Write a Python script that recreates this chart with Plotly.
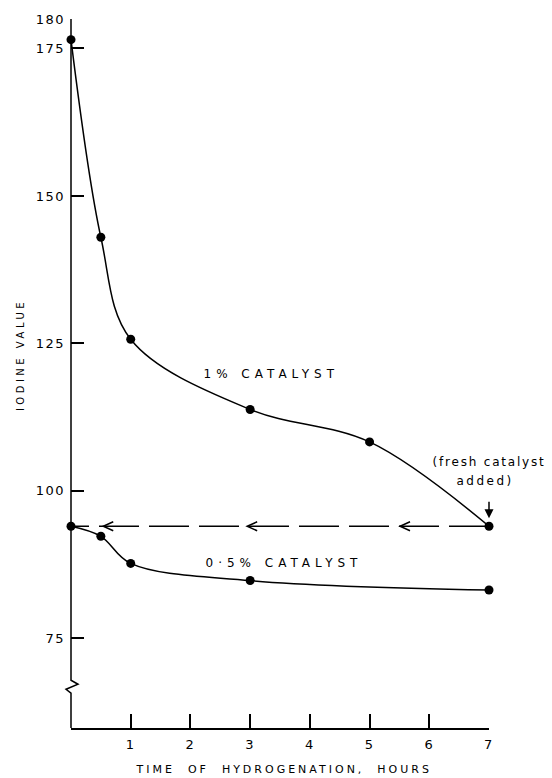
import json
import plotly.graph_objects as go

# ---- data ----
time_1pct = [0, 0.5, 1, 3, 5, 7]
iv_1pct = [176.5, 143.0, 125.7, 113.8, 108.3, 94.0]

time_05pct = [0, 0.5, 1, 3, 7]
iv_05pct = [94.0, 92.3, 87.7, 84.8, 83.2]

# fresh catalyst added at 7 h: iodine value carried back to t = 0
transfer_time = [7, 0]
transfer_iv = [94.0, 94.0]

x_ticks = [1, 2, 3, 4, 5, 6, 7]
y_ticks = [75, 100, 125, 150, 175, 180]

FONT = "DejaVu Sans"
W, H = 552, 778
ML, MR, MT, MB = 71, 63, 15, 50
YMIN, YMAX = 59.8, 180
XMIN, XMAX = 0, 7
pw = W - ML - MR
ph = H - MT - MB
pxx = (XMAX - XMIN) / pw       # data units per pixel in x
pxy = (YMAX - YMIN) / ph       # data units per pixel in y


def yv(py):
    return YMAX - (py - MT) * pxy


def xp(px):
    return (px - ML) / pw


def yp(py):
    return (H - MB - py) / ph


fig = go.Figure()

fig.add_trace(go.Scatter(
    x=time_1pct, y=iv_1pct, mode="lines+markers",
    line=dict(color="black", width=1.5, shape="spline", smoothing=1.0),
    marker=dict(color="black", size=9), cliponaxis=False, showlegend=False))

fig.add_trace(go.Scatter(
    x=time_05pct, y=iv_05pct, mode="lines+markers",
    line=dict(color="black", width=1.5, shape="spline", smoothing=1.0),
    marker=dict(color="black", size=9), cliponaxis=False, showlegend=False))

fig.add_trace(go.Scatter(
    x=transfer_time, y=transfer_iv, mode="lines",
    line=dict(color="black", width=1.5, dash="40px,10px"),
    cliponaxis=False, showlegend=False))

shapes = []
# open chevron arrowheads on the dashed line
for ax_ in [0.54, 2.95, 5.51]:
    dx = 10 * pxx
    dy = 4.5 * pxy
    shapes.append(dict(type="path", xref="x", yref="y",
                       path=f"M {ax_+dx},{transfer_iv[0]+dy} L {ax_},{transfer_iv[0]} L {ax_+dx},{transfer_iv[0]-dy}",
                       line=dict(color="black", width=1.5)))

# y axis line with break (zigzag)
px_ = 1.0 / pw
zig = (f"M 0,{YMIN} L 0,{yv(693)} L {-5*px_},{yv(689)} L {7*px_},{yv(684)} "
       f"L 0,{yv(680)} L 0,{YMAX}")
shapes.append(dict(type="path", xref="paper", yref="y", path=zig,
                   line=dict(color="black", width=1.5), layer="above"))

tf = dict(family=FONT, size=12, color="black")
A = dict(xanchor="center", yanchor="middle", showarrow=False)
annotations = [
    dict(x=3.36, y=yv(372), xref="x", yref="y", text="1% CATALYST", font=tf, **A),
    dict(x=3.57, y=yv(562), xref="x", yref="y", text="0·5% CATALYST", font=tf, **A),
    dict(x=xp(489), y=yp(461), xref="paper", yref="paper", text="(fresh catalyst",
         font=tf, **A),
    dict(x=xp(485), y=yp(480), xref="paper", yref="paper", text="added)", font=tf, **A),
    dict(x=7, y=transfer_iv[0], xref="x", yref="y", text="", showarrow=True,
         ax=0, ay=-26, arrowhead=2, arrowsize=1.2, arrowwidth=1.5, arrowcolor="black",
         standoff=8),
    dict(x=xp(20), y=yp(353), xref="paper", yref="paper",
         text="IODINE VALUE", textangle=-90,
         font=dict(family=FONT, size=10, color="black"), **A),
    dict(x=xp(283), y=yp(770), xref="paper", yref="paper",
         text="TIME  OF  HYDROGENATION,  HOURS",
         font=dict(family=FONT, size=11, color="black"), **A),
]
spacing = {
    "1% CATALYST": "5px",
    "0·5% CATALYST": "5px",
    "(fresh catalyst": "1.8px",
    "added)": "2.5px",
    "IODINE VALUE": "3.5px",
    "TIME  OF  HYDROGENATION,  HOURS": "3px",
}

fig.update_layout(
    width=W, height=H,
    margin=dict(l=ML, r=MR, t=MT, b=MB, pad=0),
    paper_bgcolor="white", plot_bgcolor="white",
    shapes=shapes, annotations=annotations,
    font=dict(family=FONT, color="black"),
)
tickf = dict(family=FONT, size=13, color="black")
fig.update_xaxes(range=[XMIN, XMAX], tickvals=x_ticks, ticks="inside", ticklen=14,
                 tickwidth=1.5, tickcolor="black", showline=True, linecolor="black",
                 linewidth=1.5, showgrid=False, zeroline=False, tickfont=tickf,
                 ticklabelstandoff=4)
fig.update_yaxes(range=[YMIN, YMAX], tickvals=y_ticks, ticks="inside", ticklen=13,
                 tickwidth=1.5, tickcolor="black", showline=False, showgrid=False,
                 zeroline=False, tickfont=tickf, ticklabelstandoff=5)

post = """
document.body.style.margin='0';
var gd=document.getElementById('{plot_id}');
var sp=%s;
gd.querySelectorAll('g.annotation text').forEach(function(t){
  var k=t.textContent.replace(/\\u00a0/g,' ');
  if(sp[k]!==undefined){ t.style.letterSpacing=sp[k]; }
});
gd.querySelectorAll('g.xtick text, g.ytick text').forEach(function(t){ t.style.letterSpacing='1.5px'; });
""" % json.dumps(spacing, ensure_ascii=False)

fig.write_html("out.html", post_script=post, config={"displayModeBar": False})
